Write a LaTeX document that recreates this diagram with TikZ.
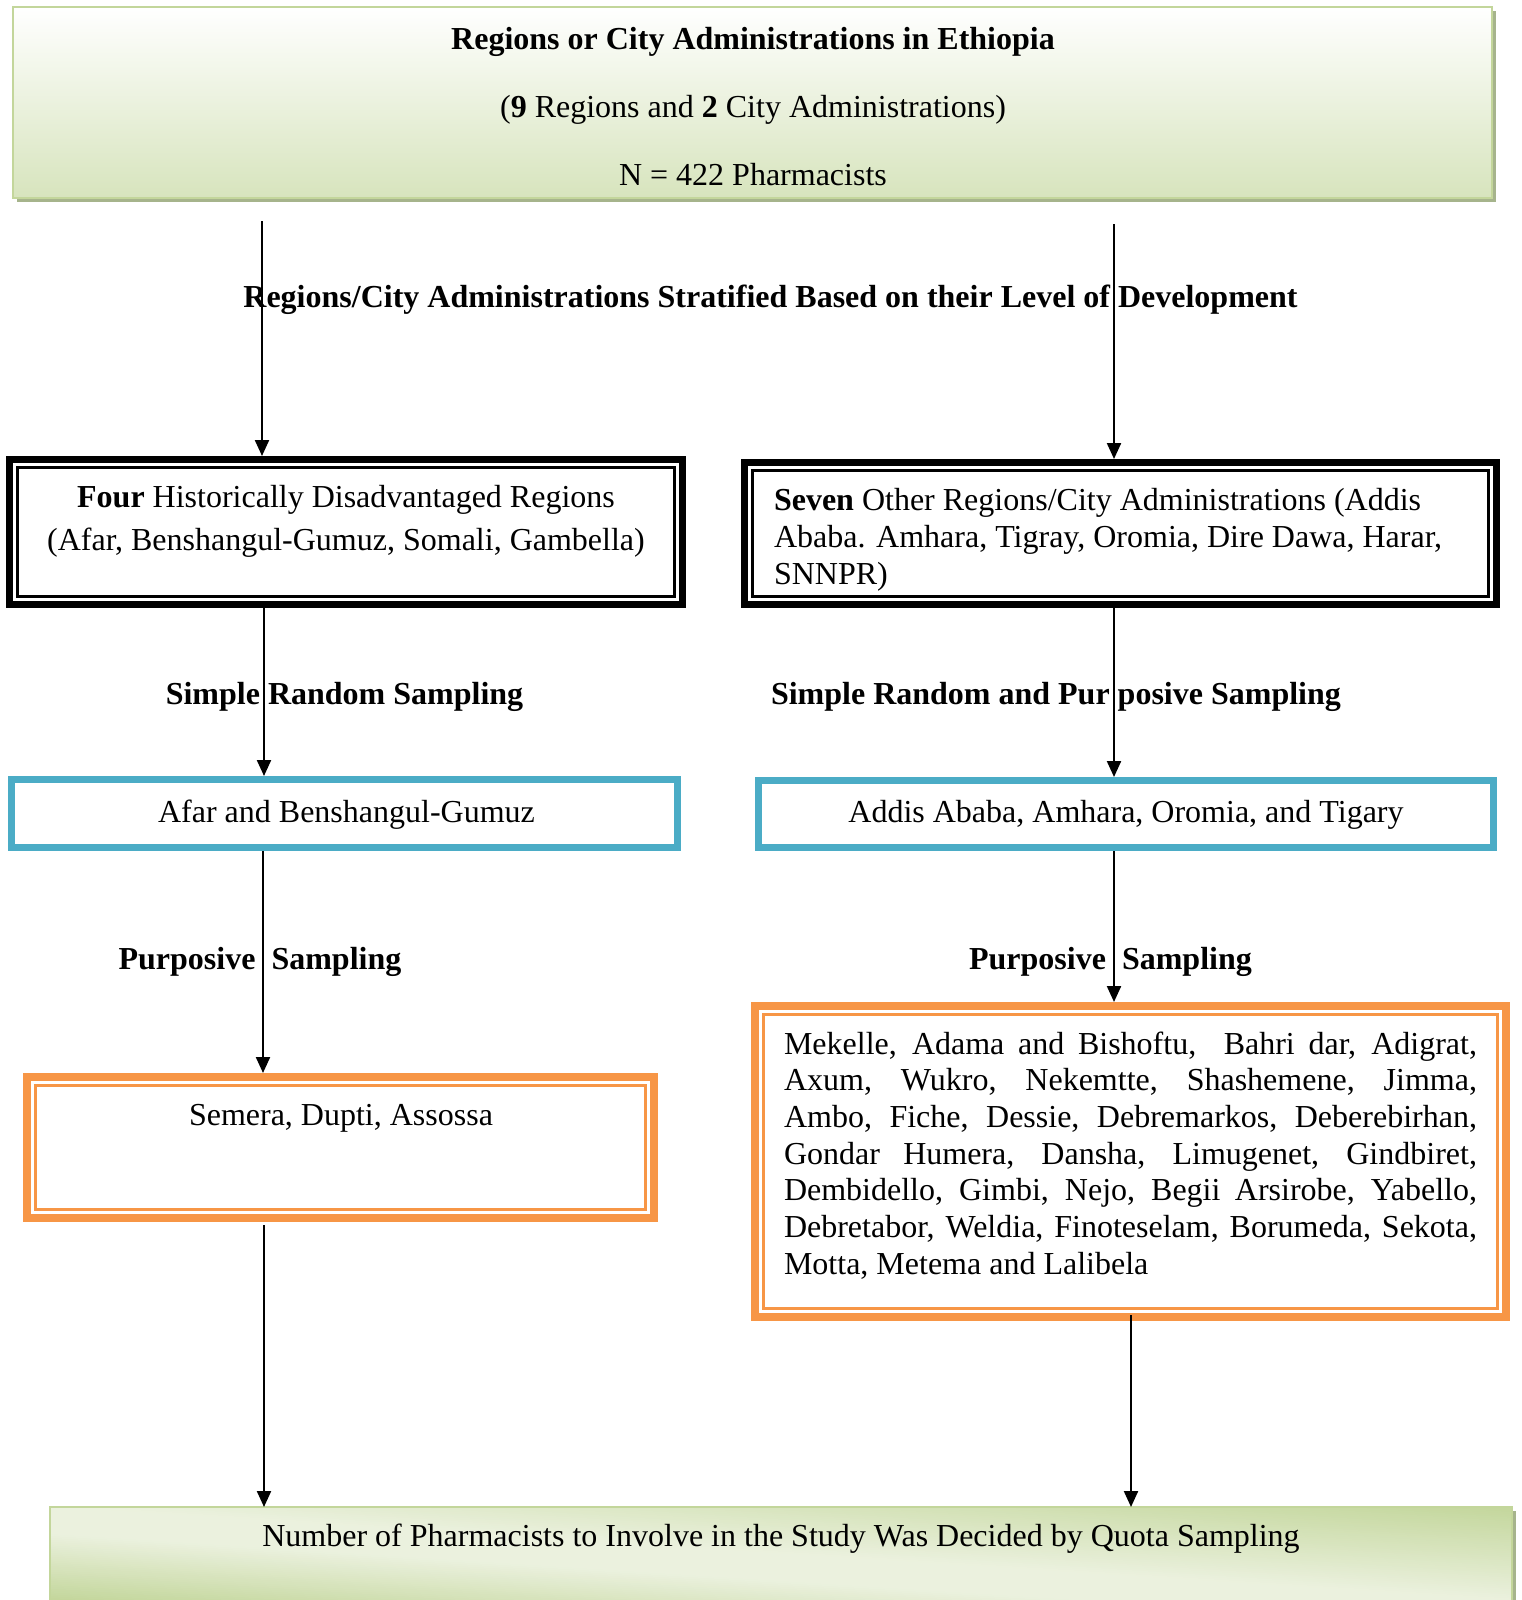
\documentclass[tikz,border=0pt]{standalone}
\usepackage{fontspec}
\setmainfont{Liberation Serif}
\usetikzlibrary{arrows.meta,shadows}
\hbadness=10000 \hfuzz=8pt
\definecolor{gborder}{HTML}{C3D69B}
\definecolor{gdark}{HTML}{D7E4BD}
\definecolor{glight}{HTML}{EBF1DE}
\definecolor{gshadow}{RGB}{166,180,140}
\definecolor{blueline}{HTML}{4BACC6}
\definecolor{orangeline}{HTML}{F79646}
\begin{document}
\begin{tikzpicture}[x=1pt,y=-1pt,
  txt/.style={inner sep=0pt, outer sep=0pt, font=\fontsize{32}{37}\selectfont},
  arr/.style={line width=2.2pt, -{Triangle[length=16pt,width=14pt]}},
  greenbox/.style={draw=gborder, line width=2pt, inner sep=0pt,
    drop shadow={shadow xshift=4pt, shadow yshift=-4pt, fill=gshadow, opacity=1}},
  blackbox/.style={draw=black, line width=7pt, inner sep=0pt},
  bluebox/.style={draw=blueline, line width=7pt, inner sep=0pt},
  orangebox/.style={draw=orangeline, line width=8pt, inner sep=0pt},
  thinblack/.style={draw=black, line width=2.5pt},
  thinorange/.style={draw=orangeline, line width=3pt},
]
\useasboundingbox (0,0) rectangle (1522,1600);

% ---- boxes ----
\node[greenbox, top color=white, bottom color=gdark,
      minimum width=1479pt, minimum height=191pt] (top) at (752.5,102.5) {};

\node[blackbox, minimum width=673pt, minimum height=145pt] (lreg) at (346,532) {};
\draw[thinblack] ([shift={(11.5,-11.5)}]lreg.south west) rectangle ([shift={(-11.5,11.5)}]lreg.north east);

\node[blackbox, minimum width=752pt, minimum height=142pt] (rreg) at (1120.5,533.5) {};
\draw[thinblack] ([shift={(11.5,-11.5)}]rreg.south west) rectangle ([shift={(-11.5,11.5)}]rreg.north east);

\node[bluebox, minimum width=666pt, minimum height=68pt] (lblue) at (344.5,813.5) {};
\node[bluebox, minimum width=735pt, minimum height=67pt] (rblue) at (1126,814) {};

\node[orangebox, minimum width=627pt, minimum height=141pt] (lorange) at (340.5,1147.5) {};
\draw[thinorange] ([shift={(12.5,-12.5)}]lorange.south west) rectangle ([shift={(-12.5,12.5)}]lorange.north east);

\node[orangebox, minimum width=751pt, minimum height=311pt] (rorange) at (1130.5,1161.5) {};
\draw[thinorange] ([shift={(12.5,-12.5)}]rorange.south west) rectangle ([shift={(-12.5,12.5)}]rorange.north east);

\node[greenbox, fill=glight, outer sep=0pt,
      minimum width=1462pt, minimum height=96pt] (quota) at (781,1555) {};
\begin{scope}
  \clip (quota.south west) rectangle (quota.north east);
  \foreach \i in {0,...,99}{
    \pgfmathsetmacro\qa{4*(\i/100-0.5)}
    \pgfmathsetmacro\qb{4*((\i+1.4)/100-0.5)}
    \pgfmathsetmacro\qp{(\i+0.5)/100}
    \pgfmathsetmacro\mixv{\qp<0.35 ? 100*(1-\qp/0.35) : (\qp>0.5 ? 100*(\qp-0.5)/0.5 : 0)}
    \fill[gborder!\mixv!glight] ({781+731*(\qa-1)},1506) -- ({781+731*(\qb-1)},1506)
      -- ({781+731*(\qb+1)},1600) -- ({781+731*(\qa+1)},1600) -- cycle;
  }
\end{scope}
\draw[gborder, line width=2pt] (quota.south west) rectangle (quota.north east);

% ---- texts ----
\node[txt, anchor=base, font=\fontsize{32}{68}\selectfont] (toptxt) at (753,49.5)
  {\vtop{\halign{\hfil#\hfil\cr
   \textbf{Regions or City Administrations in Ethiopia}\cr
   (\textbf{9} Regions and \textbf{2} City Administrations)\cr
   N = 422 Pharmacists\cr}}};

\node[txt, anchor=base, font=\bfseries\fontsize{32}{37}\selectfont] (strat) at (770.5,307.5)
  {Regions/City Administrations Stratified Based on their Level of Development};

\node[txt, anchor=base, font=\fontsize{32}{43}\selectfont] (ltxt) at (346,507)
  {\vtop{\halign{\hfil#\hfil\cr
   \textbf{Four} Historically Disadvantaged Regions\cr
   (Afar, Benshangul-Gumuz, Somali, Gambella)\cr}}};

\node[txt, anchor=base west, font=\fontsize{32}{37}\selectfont] (rtxt) at (774,510)
  {\vtop{\hbox{\textbf{Seven} Other Regions/City Administrations (Addis}%
   \hbox{Ababa. Amhara, Tigray, Oromia, Dire Dawa, Harar,}%
   \hbox{SNNPR)}}};

\node[txt, anchor=base, font=\bfseries\fontsize{32}{37}\selectfont] (srs) at (344.5,704.5)
  {Simple Random Sampling};
\node[txt, anchor=base west, font=\bfseries\fontsize{32}{37}\selectfont] (srps) at (771,704.5)
  {Simple Random and Pur posive Sampling};

\node[txt, anchor=base] (lbluetxt) at (346.5,822.5) {Afar and Benshangul-Gumuz};
\node[txt, anchor=base] (rbluetxt) at (1126,822.5) {Addis Ababa, Amhara, Oromia, and Tigary};

\node[txt, anchor=base, font=\bfseries\fontsize{32}{37}\selectfont] (lps) at (260,969.5)
  {Purposive\ \ Sampling};
\node[txt, anchor=base, font=\bfseries\fontsize{32}{37}\selectfont] (rps) at (1110.5,969.5)
  {Purposive\ \ Sampling};

\node[txt, anchor=base] (lorangetxt) at (341,1125.5) {Semera, Dupti, Assossa};

\node[txt, anchor=base west, font=\fontsize{32}{36.7}\selectfont] (cities) at (784,1054)
  {\vtop{\hbox to 693pt{Mekelle, Adama and Bishoftu,\ \ Bahri dar, Adigrat,}%
   \hbox to 693pt{Axum, Wukro, Nekemtte, Shashemene, Jimma,}%
   \hbox to 693pt{Ambo, Fiche, Dessie, Debremarkos, Deberebirhan,}%
   \hbox to 693pt{Gondar Humera, Dansha, Limugenet, Gindbiret,}%
   \hbox to 693pt{Dembidello, Gimbi, Nejo, Begii Arsirobe, Yabello,}%
   \hbox to 693pt{Debretabor, Weldia, Finoteselam, Borumeda, Sekota,}%
   \hbox{Motta, Metema and Lalibela}}};

\node[txt, anchor=base] (quotatxt) at (781,1546.5)
  {Number of Pharmacists to Involve in the Study Was Decided by Quota Sampling};

% ---- connectors ----
\coordinate (s1) at (262,221);
\coordinate (s2) at (1114,224);
\coordinate (c3) at (264,0);
\coordinate (c4) at (1114,0);
\coordinate (c5) at (263,0);
\coordinate (c7) at (264,0);
\coordinate (c8) at (1131,0);

\draw[arr] (s1) -- (s1 |- lreg.north);
\draw[arr] (s2) -- (s2 |- rreg.north);
\draw[arr] (c3 |- lreg.south) -- (c3 |- lblue.north);
\draw[arr] (c4 |- rreg.south) -- (c4 |- rblue.north);
\draw[arr] (c5 |- lblue.south) -- (c5 |- lorange.north);
\draw[arr] (c4 |- rblue.south) -- (c4 |- rorange.north);
\draw[arr] ([yshift=-3pt]c7 |- lorange.south) -- (c7 |- quota.north);
\draw[arr] ([yshift=6pt]c8 |- rorange.south) -- (c8 |- quota.north);
\end{tikzpicture}
\end{document}
